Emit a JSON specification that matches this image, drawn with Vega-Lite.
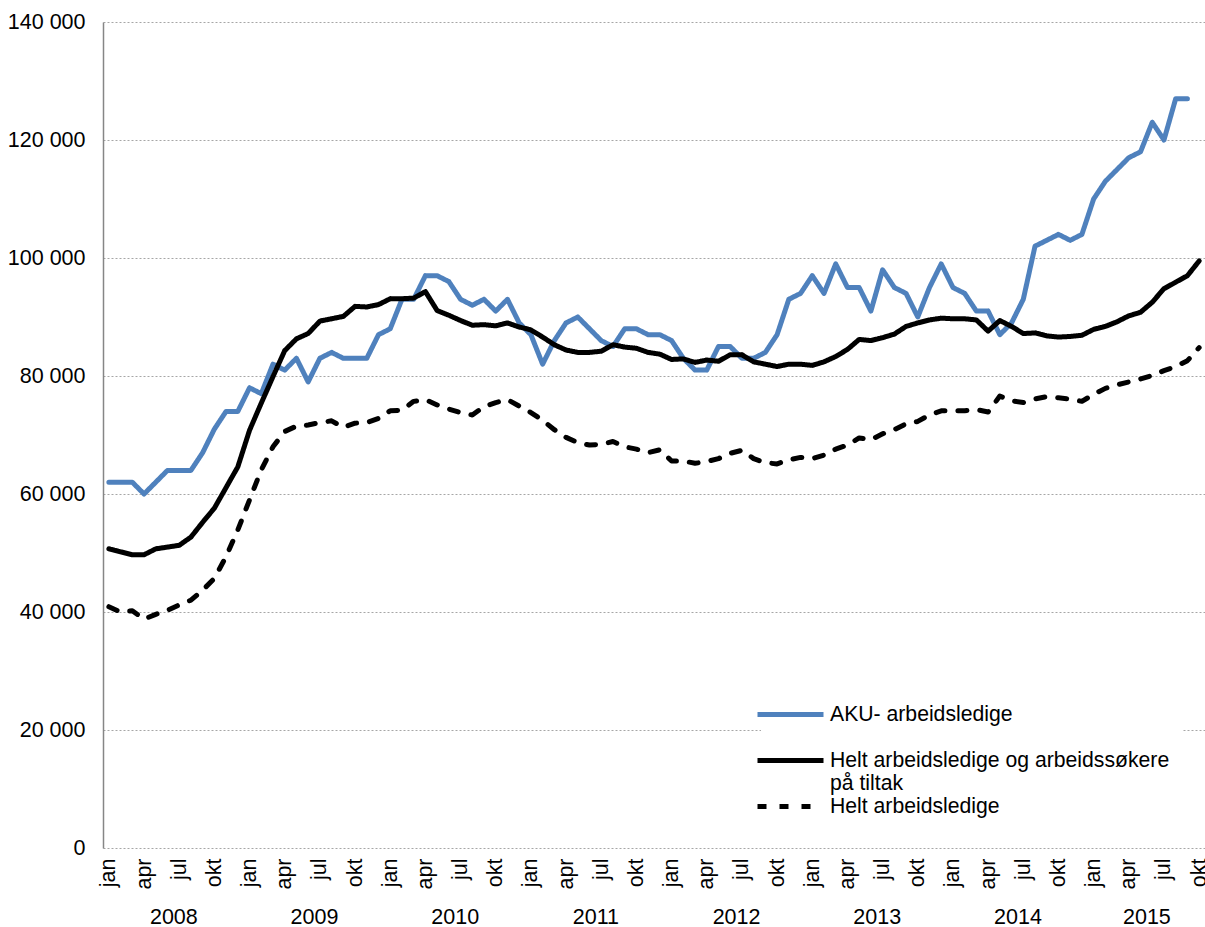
{
  "$schema": "https://vega.github.io/schema/vega-lite/v6.json",
  "width": 1102,
  "height": 826,
  "autosize": {"type": "none"},
  "padding": {"left": 103, "top": 22, "right": 0, "bottom": 79},
  "background": "white",
  "config": {
    "font": "Liberation Sans",
    "view": {"stroke": null},
    "axis": {"labelFont": "Liberation Sans", "labelColor": "black", "labelFontSize": 21.5, "title": null},
    "legend": {"labelFont": "Liberation Sans"}
  },
  "layer": [
    {
      "data": {
        "values": [
          {"m":0,"s":"AKU- arbeidsledige","v":62000},{"m":1,"s":"AKU- arbeidsledige","v":62000},{"m":2,"s":"AKU- arbeidsledige","v":62000},{"m":3,"s":"AKU- arbeidsledige","v":60000},{"m":4,"s":"AKU- arbeidsledige","v":62000},{"m":5,"s":"AKU- arbeidsledige","v":64000},{"m":6,"s":"AKU- arbeidsledige","v":64000},{"m":7,"s":"AKU- arbeidsledige","v":64000},{"m":8,"s":"AKU- arbeidsledige","v":67000},{"m":9,"s":"AKU- arbeidsledige","v":71000},
          {"m":10,"s":"AKU- arbeidsledige","v":74000},{"m":11,"s":"AKU- arbeidsledige","v":74000},{"m":12,"s":"AKU- arbeidsledige","v":78000},{"m":13,"s":"AKU- arbeidsledige","v":77000},{"m":14,"s":"AKU- arbeidsledige","v":82000},{"m":15,"s":"AKU- arbeidsledige","v":81000},{"m":16,"s":"AKU- arbeidsledige","v":83000},{"m":17,"s":"AKU- arbeidsledige","v":79000},{"m":18,"s":"AKU- arbeidsledige","v":83000},{"m":19,"s":"AKU- arbeidsledige","v":84000},
          {"m":20,"s":"AKU- arbeidsledige","v":83000},{"m":21,"s":"AKU- arbeidsledige","v":83000},{"m":22,"s":"AKU- arbeidsledige","v":83000},{"m":23,"s":"AKU- arbeidsledige","v":87000},{"m":24,"s":"AKU- arbeidsledige","v":88000},{"m":25,"s":"AKU- arbeidsledige","v":93000},{"m":26,"s":"AKU- arbeidsledige","v":93000},{"m":27,"s":"AKU- arbeidsledige","v":97000},{"m":28,"s":"AKU- arbeidsledige","v":97000},{"m":29,"s":"AKU- arbeidsledige","v":96000},
          {"m":30,"s":"AKU- arbeidsledige","v":93000},{"m":31,"s":"AKU- arbeidsledige","v":92000},{"m":32,"s":"AKU- arbeidsledige","v":93000},{"m":33,"s":"AKU- arbeidsledige","v":91000},{"m":34,"s":"AKU- arbeidsledige","v":93000},{"m":35,"s":"AKU- arbeidsledige","v":89000},{"m":36,"s":"AKU- arbeidsledige","v":87000},{"m":37,"s":"AKU- arbeidsledige","v":82000},{"m":38,"s":"AKU- arbeidsledige","v":86000},{"m":39,"s":"AKU- arbeidsledige","v":89000},
          {"m":40,"s":"AKU- arbeidsledige","v":90000},{"m":41,"s":"AKU- arbeidsledige","v":88000},{"m":42,"s":"AKU- arbeidsledige","v":86000},{"m":43,"s":"AKU- arbeidsledige","v":85000},{"m":44,"s":"AKU- arbeidsledige","v":88000},{"m":45,"s":"AKU- arbeidsledige","v":88000},{"m":46,"s":"AKU- arbeidsledige","v":87000},{"m":47,"s":"AKU- arbeidsledige","v":87000},{"m":48,"s":"AKU- arbeidsledige","v":86000},{"m":49,"s":"AKU- arbeidsledige","v":83000},
          {"m":50,"s":"AKU- arbeidsledige","v":81000},{"m":51,"s":"AKU- arbeidsledige","v":81000},{"m":52,"s":"AKU- arbeidsledige","v":85000},{"m":53,"s":"AKU- arbeidsledige","v":85000},{"m":54,"s":"AKU- arbeidsledige","v":83000},{"m":55,"s":"AKU- arbeidsledige","v":83000},{"m":56,"s":"AKU- arbeidsledige","v":84000},{"m":57,"s":"AKU- arbeidsledige","v":87000},{"m":58,"s":"AKU- arbeidsledige","v":93000},{"m":59,"s":"AKU- arbeidsledige","v":94000},
          {"m":60,"s":"AKU- arbeidsledige","v":97000},{"m":61,"s":"AKU- arbeidsledige","v":94000},{"m":62,"s":"AKU- arbeidsledige","v":99000},{"m":63,"s":"AKU- arbeidsledige","v":95000},{"m":64,"s":"AKU- arbeidsledige","v":95000},{"m":65,"s":"AKU- arbeidsledige","v":91000},{"m":66,"s":"AKU- arbeidsledige","v":98000},{"m":67,"s":"AKU- arbeidsledige","v":95000},{"m":68,"s":"AKU- arbeidsledige","v":94000},{"m":69,"s":"AKU- arbeidsledige","v":90000},
          {"m":70,"s":"AKU- arbeidsledige","v":95000},{"m":71,"s":"AKU- arbeidsledige","v":99000},{"m":72,"s":"AKU- arbeidsledige","v":95000},{"m":73,"s":"AKU- arbeidsledige","v":94000},{"m":74,"s":"AKU- arbeidsledige","v":91000},{"m":75,"s":"AKU- arbeidsledige","v":91000},{"m":76,"s":"AKU- arbeidsledige","v":87000},{"m":77,"s":"AKU- arbeidsledige","v":89000},{"m":78,"s":"AKU- arbeidsledige","v":93000},{"m":79,"s":"AKU- arbeidsledige","v":102000},
          {"m":80,"s":"AKU- arbeidsledige","v":103000},{"m":81,"s":"AKU- arbeidsledige","v":104000},{"m":82,"s":"AKU- arbeidsledige","v":103000},{"m":83,"s":"AKU- arbeidsledige","v":104000},{"m":84,"s":"AKU- arbeidsledige","v":110000},{"m":85,"s":"AKU- arbeidsledige","v":113000},{"m":86,"s":"AKU- arbeidsledige","v":115000},{"m":87,"s":"AKU- arbeidsledige","v":117000},{"m":88,"s":"AKU- arbeidsledige","v":118000},{"m":89,"s":"AKU- arbeidsledige","v":123000},
          {"m":90,"s":"AKU- arbeidsledige","v":120000},{"m":91,"s":"AKU- arbeidsledige","v":127000},{"m":92,"s":"AKU- arbeidsledige","v":127000},

          {"m":0,"s":"Helt arbeidsledige og arbeidssøkere på tiltak","v":50700},{"m":1,"s":"Helt arbeidsledige og arbeidssøkere på tiltak","v":50200},{"m":2,"s":"Helt arbeidsledige og arbeidssøkere på tiltak","v":49700},{"m":3,"s":"Helt arbeidsledige og arbeidssøkere på tiltak","v":49700},{"m":4,"s":"Helt arbeidsledige og arbeidssøkere på tiltak","v":50700},{"m":5,"s":"Helt arbeidsledige og arbeidssøkere på tiltak","v":51000},{"m":6,"s":"Helt arbeidsledige og arbeidssøkere på tiltak","v":51300},{"m":7,"s":"Helt arbeidsledige og arbeidssøkere på tiltak","v":52700},{"m":8,"s":"Helt arbeidsledige og arbeidssøkere på tiltak","v":55200},{"m":9,"s":"Helt arbeidsledige og arbeidssøkere på tiltak","v":57600},
          {"m":10,"s":"Helt arbeidsledige og arbeidssøkere på tiltak","v":61100},{"m":11,"s":"Helt arbeidsledige og arbeidssøkere på tiltak","v":64600},{"m":12,"s":"Helt arbeidsledige og arbeidssøkere på tiltak","v":70800},{"m":13,"s":"Helt arbeidsledige og arbeidssøkere på tiltak","v":75400},{"m":14,"s":"Helt arbeidsledige og arbeidssøkere på tiltak","v":79900},{"m":15,"s":"Helt arbeidsledige og arbeidssøkere på tiltak","v":84300},{"m":16,"s":"Helt arbeidsledige og arbeidssøkere på tiltak","v":86300},{"m":17,"s":"Helt arbeidsledige og arbeidssøkere på tiltak","v":87200},{"m":18,"s":"Helt arbeidsledige og arbeidssøkere på tiltak","v":89300},{"m":19,"s":"Helt arbeidsledige og arbeidssøkere på tiltak","v":89700},
          {"m":20,"s":"Helt arbeidsledige og arbeidssøkere på tiltak","v":90100},{"m":21,"s":"Helt arbeidsledige og arbeidssøkere på tiltak","v":91800},{"m":22,"s":"Helt arbeidsledige og arbeidssøkere på tiltak","v":91700},{"m":23,"s":"Helt arbeidsledige og arbeidssøkere på tiltak","v":92100},{"m":24,"s":"Helt arbeidsledige og arbeidssøkere på tiltak","v":93100},{"m":25,"s":"Helt arbeidsledige og arbeidssøkere på tiltak","v":93100},{"m":26,"s":"Helt arbeidsledige og arbeidssøkere på tiltak","v":93200},{"m":27,"s":"Helt arbeidsledige og arbeidssøkere på tiltak","v":94300},{"m":28,"s":"Helt arbeidsledige og arbeidssøkere på tiltak","v":91100},{"m":29,"s":"Helt arbeidsledige og arbeidssøkere på tiltak","v":90300},
          {"m":30,"s":"Helt arbeidsledige og arbeidssøkere på tiltak","v":89400},{"m":31,"s":"Helt arbeidsledige og arbeidssøkere på tiltak","v":88600},{"m":32,"s":"Helt arbeidsledige og arbeidssøkere på tiltak","v":88700},{"m":33,"s":"Helt arbeidsledige og arbeidssøkere på tiltak","v":88500},{"m":34,"s":"Helt arbeidsledige og arbeidssøkere på tiltak","v":89000},{"m":35,"s":"Helt arbeidsledige og arbeidssøkere på tiltak","v":88300},{"m":36,"s":"Helt arbeidsledige og arbeidssøkere på tiltak","v":87800},{"m":37,"s":"Helt arbeidsledige og arbeidssøkere på tiltak","v":86600},{"m":38,"s":"Helt arbeidsledige og arbeidssøkere på tiltak","v":85300},{"m":39,"s":"Helt arbeidsledige og arbeidssøkere på tiltak","v":84400},
          {"m":40,"s":"Helt arbeidsledige og arbeidssøkere på tiltak","v":84000},{"m":41,"s":"Helt arbeidsledige og arbeidssøkere på tiltak","v":84000},{"m":42,"s":"Helt arbeidsledige og arbeidssøkere på tiltak","v":84200},{"m":43,"s":"Helt arbeidsledige og arbeidssøkere på tiltak","v":85300},{"m":44,"s":"Helt arbeidsledige og arbeidssøkere på tiltak","v":84900},{"m":45,"s":"Helt arbeidsledige og arbeidssøkere på tiltak","v":84700},{"m":46,"s":"Helt arbeidsledige og arbeidssøkere på tiltak","v":84000},{"m":47,"s":"Helt arbeidsledige og arbeidssøkere på tiltak","v":83700},{"m":48,"s":"Helt arbeidsledige og arbeidssøkere på tiltak","v":82800},{"m":49,"s":"Helt arbeidsledige og arbeidssøkere på tiltak","v":82900},
          {"m":50,"s":"Helt arbeidsledige og arbeidssøkere på tiltak","v":82300},{"m":51,"s":"Helt arbeidsledige og arbeidssøkere på tiltak","v":82700},{"m":52,"s":"Helt arbeidsledige og arbeidssøkere på tiltak","v":82500},{"m":53,"s":"Helt arbeidsledige og arbeidssøkere på tiltak","v":83600},{"m":54,"s":"Helt arbeidsledige og arbeidssøkere på tiltak","v":83600},{"m":55,"s":"Helt arbeidsledige og arbeidssøkere på tiltak","v":82400},{"m":56,"s":"Helt arbeidsledige og arbeidssøkere på tiltak","v":82000},{"m":57,"s":"Helt arbeidsledige og arbeidssøkere på tiltak","v":81600},{"m":58,"s":"Helt arbeidsledige og arbeidssøkere på tiltak","v":82000},{"m":59,"s":"Helt arbeidsledige og arbeidssøkere på tiltak","v":82000},
          {"m":60,"s":"Helt arbeidsledige og arbeidssøkere på tiltak","v":81800},{"m":61,"s":"Helt arbeidsledige og arbeidssøkere på tiltak","v":82400},{"m":62,"s":"Helt arbeidsledige og arbeidssøkere på tiltak","v":83300},{"m":63,"s":"Helt arbeidsledige og arbeidssøkere på tiltak","v":84500},{"m":64,"s":"Helt arbeidsledige og arbeidssøkere på tiltak","v":86200},{"m":65,"s":"Helt arbeidsledige og arbeidssøkere på tiltak","v":86000},{"m":66,"s":"Helt arbeidsledige og arbeidssøkere på tiltak","v":86500},{"m":67,"s":"Helt arbeidsledige og arbeidssøkere på tiltak","v":87100},{"m":68,"s":"Helt arbeidsledige og arbeidssøkere på tiltak","v":88400},{"m":69,"s":"Helt arbeidsledige og arbeidssøkere på tiltak","v":89000},
          {"m":70,"s":"Helt arbeidsledige og arbeidssøkere på tiltak","v":89500},{"m":71,"s":"Helt arbeidsledige og arbeidssøkere på tiltak","v":89800},{"m":72,"s":"Helt arbeidsledige og arbeidssøkere på tiltak","v":89700},{"m":73,"s":"Helt arbeidsledige og arbeidssøkere på tiltak","v":89700},{"m":74,"s":"Helt arbeidsledige og arbeidssøkere på tiltak","v":89500},{"m":75,"s":"Helt arbeidsledige og arbeidssøkere på tiltak","v":87600},{"m":76,"s":"Helt arbeidsledige og arbeidssøkere på tiltak","v":89400},{"m":77,"s":"Helt arbeidsledige og arbeidssøkere på tiltak","v":88400},{"m":78,"s":"Helt arbeidsledige og arbeidssøkere på tiltak","v":87200},{"m":79,"s":"Helt arbeidsledige og arbeidssøkere på tiltak","v":87300},
          {"m":80,"s":"Helt arbeidsledige og arbeidssøkere på tiltak","v":86800},{"m":81,"s":"Helt arbeidsledige og arbeidssøkere på tiltak","v":86600},{"m":82,"s":"Helt arbeidsledige og arbeidssøkere på tiltak","v":86700},{"m":83,"s":"Helt arbeidsledige og arbeidssøkere på tiltak","v":86900},{"m":84,"s":"Helt arbeidsledige og arbeidssøkere på tiltak","v":87900},{"m":85,"s":"Helt arbeidsledige og arbeidssøkere på tiltak","v":88400},{"m":86,"s":"Helt arbeidsledige og arbeidssøkere på tiltak","v":89200},{"m":87,"s":"Helt arbeidsledige og arbeidssøkere på tiltak","v":90200},{"m":88,"s":"Helt arbeidsledige og arbeidssøkere på tiltak","v":90800},{"m":89,"s":"Helt arbeidsledige og arbeidssøkere på tiltak","v":92500},
          {"m":90,"s":"Helt arbeidsledige og arbeidssøkere på tiltak","v":94800},{"m":91,"s":"Helt arbeidsledige og arbeidssøkere på tiltak","v":95900},{"m":92,"s":"Helt arbeidsledige og arbeidssøkere på tiltak","v":97000},{"m":93,"s":"Helt arbeidsledige og arbeidssøkere på tiltak","v":99500},

          {"m":0,"s":"Helt arbeidsledige","v":40900},{"m":1,"s":"Helt arbeidsledige","v":40000},{"m":2,"s":"Helt arbeidsledige","v":40200},{"m":3,"s":"Helt arbeidsledige","v":38800},{"m":4,"s":"Helt arbeidsledige","v":39600},{"m":5,"s":"Helt arbeidsledige","v":40300},{"m":6,"s":"Helt arbeidsledige","v":41200},{"m":7,"s":"Helt arbeidsledige","v":42000},{"m":8,"s":"Helt arbeidsledige","v":43700},{"m":9,"s":"Helt arbeidsledige","v":45700},
          {"m":10,"s":"Helt arbeidsledige","v":49400},{"m":11,"s":"Helt arbeidsledige","v":53900},{"m":12,"s":"Helt arbeidsledige","v":59000},{"m":13,"s":"Helt arbeidsledige","v":64100},{"m":14,"s":"Helt arbeidsledige","v":68000},{"m":15,"s":"Helt arbeidsledige","v":70600},{"m":16,"s":"Helt arbeidsledige","v":71500},{"m":17,"s":"Helt arbeidsledige","v":71700},{"m":18,"s":"Helt arbeidsledige","v":72100},{"m":19,"s":"Helt arbeidsledige","v":72400},
          {"m":20,"s":"Helt arbeidsledige","v":71300},{"m":21,"s":"Helt arbeidsledige","v":72000},{"m":22,"s":"Helt arbeidsledige","v":72100},{"m":23,"s":"Helt arbeidsledige","v":72800},{"m":24,"s":"Helt arbeidsledige","v":74100},{"m":25,"s":"Helt arbeidsledige","v":74200},{"m":26,"s":"Helt arbeidsledige","v":75700},{"m":27,"s":"Helt arbeidsledige","v":76000},{"m":28,"s":"Helt arbeidsledige","v":75100},{"m":29,"s":"Helt arbeidsledige","v":74400},
          {"m":30,"s":"Helt arbeidsledige","v":73800},{"m":31,"s":"Helt arbeidsledige","v":73400},{"m":32,"s":"Helt arbeidsledige","v":74800},{"m":33,"s":"Helt arbeidsledige","v":75500},{"m":34,"s":"Helt arbeidsledige","v":76000},{"m":35,"s":"Helt arbeidsledige","v":74900},{"m":36,"s":"Helt arbeidsledige","v":73800},{"m":37,"s":"Helt arbeidsledige","v":72500},{"m":38,"s":"Helt arbeidsledige","v":70900},{"m":39,"s":"Helt arbeidsledige","v":69600},
          {"m":40,"s":"Helt arbeidsledige","v":68700},{"m":41,"s":"Helt arbeidsledige","v":68300},{"m":42,"s":"Helt arbeidsledige","v":68400},{"m":43,"s":"Helt arbeidsledige","v":68900},{"m":44,"s":"Helt arbeidsledige","v":68000},{"m":45,"s":"Helt arbeidsledige","v":67600},{"m":46,"s":"Helt arbeidsledige","v":67000},{"m":47,"s":"Helt arbeidsledige","v":67500},{"m":48,"s":"Helt arbeidsledige","v":65600},{"m":49,"s":"Helt arbeidsledige","v":65600},
          {"m":50,"s":"Helt arbeidsledige","v":65200},{"m":51,"s":"Helt arbeidsledige","v":65500},{"m":52,"s":"Helt arbeidsledige","v":66000},{"m":53,"s":"Helt arbeidsledige","v":66900},{"m":54,"s":"Helt arbeidsledige","v":67400},{"m":55,"s":"Helt arbeidsledige","v":66000},{"m":56,"s":"Helt arbeidsledige","v":65300},{"m":57,"s":"Helt arbeidsledige","v":65100},{"m":58,"s":"Helt arbeidsledige","v":65800},{"m":59,"s":"Helt arbeidsledige","v":66200},
          {"m":60,"s":"Helt arbeidsledige","v":66000},{"m":61,"s":"Helt arbeidsledige","v":66600},{"m":62,"s":"Helt arbeidsledige","v":67600},{"m":63,"s":"Helt arbeidsledige","v":68300},{"m":64,"s":"Helt arbeidsledige","v":69500},{"m":65,"s":"Helt arbeidsledige","v":69200},{"m":66,"s":"Helt arbeidsledige","v":70200},{"m":67,"s":"Helt arbeidsledige","v":70900},{"m":68,"s":"Helt arbeidsledige","v":71900},{"m":69,"s":"Helt arbeidsledige","v":72300},
          {"m":70,"s":"Helt arbeidsledige","v":73400},{"m":71,"s":"Helt arbeidsledige","v":74100},{"m":72,"s":"Helt arbeidsledige","v":74100},{"m":73,"s":"Helt arbeidsledige","v":74100},{"m":74,"s":"Helt arbeidsledige","v":74300},{"m":75,"s":"Helt arbeidsledige","v":73900},{"m":76,"s":"Helt arbeidsledige","v":76600},{"m":77,"s":"Helt arbeidsledige","v":75800},{"m":78,"s":"Helt arbeidsledige","v":75500},{"m":79,"s":"Helt arbeidsledige","v":76100},
          {"m":80,"s":"Helt arbeidsledige","v":76500},{"m":81,"s":"Helt arbeidsledige","v":76300},{"m":82,"s":"Helt arbeidsledige","v":76100},{"m":83,"s":"Helt arbeidsledige","v":75700},{"m":84,"s":"Helt arbeidsledige","v":76900},{"m":85,"s":"Helt arbeidsledige","v":77900},{"m":86,"s":"Helt arbeidsledige","v":78500},{"m":87,"s":"Helt arbeidsledige","v":79000},{"m":88,"s":"Helt arbeidsledige","v":79500},{"m":89,"s":"Helt arbeidsledige","v":80100},
          {"m":90,"s":"Helt arbeidsledige","v":80900},{"m":91,"s":"Helt arbeidsledige","v":81600},{"m":92,"s":"Helt arbeidsledige","v":82600},{"m":93,"s":"Helt arbeidsledige","v":84800}
        ]
      },
      "mark": {"type": "line", "strokeWidth": 5, "strokeCap": "round", "strokeJoin": "round", "clip": true},
      "encoding": {
        "x": {
          "field": "m", "type": "quantitative",
          "scale": {"domain": [-0.5, 93.5], "nice": false, "zero": false},
          "axis": {
            "orient": "bottom",
            "values": [0,3,6,9,12,15,18,21,24,27,30,33,36,39,42,45,48,51,54,57,60,63,66,69,72,75,78,81,84,87,90,93],
            "labelExpr": "['jan','apr','jul','okt'][(datum.value % 12) / 3]",
            "labelAngle": 270, "labelAlign": "right", "labelBaseline": "middle",
            "ticks": false, "domain": false, "grid": false, "labelPadding": 10, "labelOverlap": false, "labelFlush": false
          }
        },
        "y": {
          "field": "v", "type": "quantitative",
          "scale": {"domain": [0, 140000], "nice": false},
          "axis": {
            "values": [0,20000,40000,60000,80000,100000,120000,140000],
            "labelExpr": "replace(format(datum.value, ','), ',', ' ')",
            "grid": true, "gridColor": "#a6a6a6", "gridDash": [2, 2], "gridWidth": 1,
            "domain": true, "domainColor": "#868686", "domainWidth": 1.5,
            "ticks": false, "labelPadding": 18
          }
        },
        "color": {
          "field": "s", "type": "nominal",
          "scale": {
            "domain": ["AKU- arbeidsledige", "Helt arbeidsledige og arbeidssøkere på tiltak", "Helt arbeidsledige"],
            "range": ["#4f81bd", "#000000", "#000000"]
          },
          "legend": {
            "title": null, "orient": "none", "legendX": 658, "legendY": 663,
            "values": ["AKU- arbeidsledige", "Helt arbeidsledige og arbeidssøkere på tiltak"],
            "symbolType": "M-2.2,0H2.2", "symbolSize": 900, "symbolStrokeWidth": 5,
            "labelFontSize": 21.2, "labelLimit": 600, "labelOffset": 22, "rowPadding": 18,
            "padding": 12, "fillColor": "white",
            "labelExpr": "datum.label == 'Helt arbeidsledige og arbeidssøkere på tiltak' ? ['Helt arbeidsledige og arbeidssøkere', 'på tiltak'] : datum.label"
          }
        },
        "strokeDash": {
          "field": "s", "type": "nominal",
          "scale": {
            "domain": ["Helt arbeidsledige", "AKU- arbeidsledige", "Helt arbeidsledige og arbeidssøkere på tiltak"],
            "range": [[9, 13], [1, 0], [1, 0]]
          },
          "legend": {
            "title": null, "orient": "none", "legendX": 658, "legendY": 755,
            "values": ["Helt arbeidsledige"],
            "symbolType": "M-2.2,0H2.2", "symbolSize": 900, "symbolStrokeWidth": 5, "symbolStrokeColor": "black",
            "labelFontSize": 21.2, "labelLimit": 600, "labelOffset": 22,
            "padding": 12
          }
        }
      }
    },
    {
      "data": {
        "values": [
          {"year": "2008", "mid": 5.5}, {"year": "2009", "mid": 17.5}, {"year": "2010", "mid": 29.5}, {"year": "2011", "mid": 41.5},
          {"year": "2012", "mid": 53.5}, {"year": "2013", "mid": 65.5}, {"year": "2014", "mid": 77.5}, {"year": "2015", "mid": 88.5}
        ]
      },
      "mark": {"type": "point", "opacity": 0},
      "encoding": {
        "x": {
          "field": "mid", "type": "quantitative",
          "scale": {"domain": [-0.5, 93.5], "nice": false, "zero": false},
          "axis": {
            "orient": "bottom",
            "values": [5.5, 17.5, 29.5, 41.5, 53.5, 65.5, 77.5, 88.5],
            "labelExpr": "'' + (2008 + floor(datum.value / 12))",
            "ticks": false, "domain": false, "grid": false,
            "labelPadding": 58, "labelBaseline": "top", "labelAngle": 0, "labelOverlap": false, "labelFlush": false
          }
        }
      }
    }
  ],
  "resolve": {"scale": {"x": "independent"}}
}
